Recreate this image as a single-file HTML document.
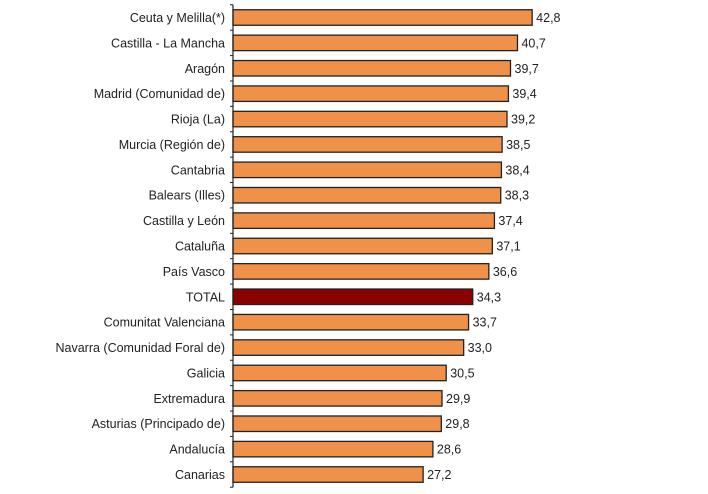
<!DOCTYPE html>
<html><head><meta charset="utf-8"><style>
body{margin:0;background:#fff;}
svg{display:block;font-family:"Liberation Sans",sans-serif;}
</style></head><body>
<svg id="chart" width="708" height="494"></svg>
<script>
const categories=["Ceuta y Melilla(*)","Castilla - La Mancha","Aragón","Madrid (Comunidad de)","Rioja (La)","Murcia (Región de)","Cantabria","Balears (Illes)","Castilla y León","Cataluña","País Vasco","TOTAL","Comunitat Valenciana","Navarra (Comunidad Foral de)","Galicia","Extremadura","Asturias (Principado de)","Andalucía","Canarias"];
const values=[42.8,40.7,39.7,39.4,39.2,38.5,38.4,38.3,37.4,37.1,36.6,34.3,33.7,33.0,30.5,29.9,29.8,28.6,27.2];
const labels=["42,8","40,7","39,7","39,4","39,2","38,5","38,4","38,3","37,4","37,1","36,6","34,3","33,7","33,0","30,5","29,9","29,8","28,6","27,2"];
const NS="http://www.w3.org/2000/svg";
const svg=document.getElementById('chart');
const x0=233,scale=6.99,top0=4.8,pitch=25.39,barH=15.5;
const xs=v=>x0+v*scale;
const ys=i=>top0+i*pitch;
function mk(t,a){const e=document.createElementNS(NS,t);for(const k in a)e.setAttribute(k,a[k]);svg.appendChild(e);return e;}
categories.forEach((c,i)=>{
  const y=ys(i)+(pitch-barH)/2;
  const b=mk('rect',{x:x0,y:y,width:xs(values[i])-x0,height:barH,fill:c==="TOTAL"?"#8b0000":"#f0914a",stroke:"#222","stroke-width":1.3});
  
  
  const t=mk('text',{x:225,y:ys(i)+pitch/2+4.5,"text-anchor":"end","font-size":12.5,fill:"#222"});
  t.textContent=c;
  
  
  const v=mk('text',{x:xs(values[i])+4,y:ys(i)+pitch/2+4.5,"font-size":12.5,fill:"#222"});
  v.textContent=labels[i];
  
  
});
for(let i=0;i<=categories.length;i++){
  const tk=mk('line',{x1:x0-3,x2:x0,y1:ys(i),y2:ys(i),stroke:"#222","stroke-width":1});
  
  
}
const ax=mk('line',{x1:x0,x2:x0,y1:ys(0),y2:ys(categories.length),stroke:"#222","stroke-width":1.2});


</script>
</body></html>
